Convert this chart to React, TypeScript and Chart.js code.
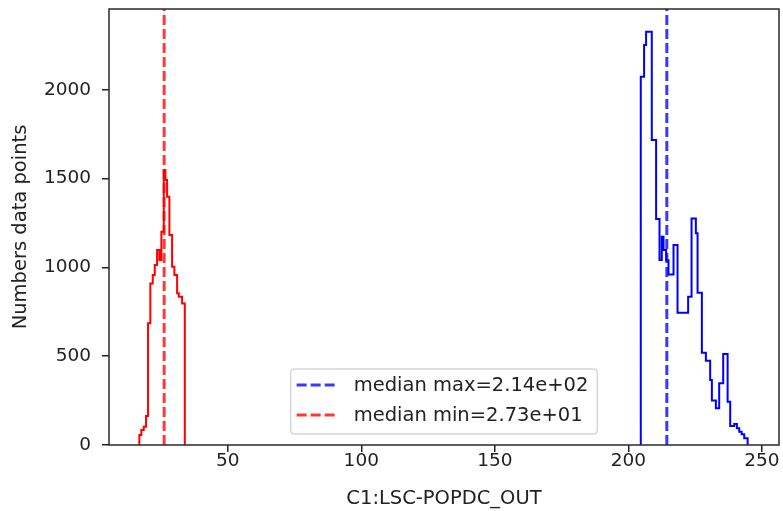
import React, { useEffect, useRef } from 'react';
import { Chart, registerables } from 'chart.js';

Chart.register(...registerables);

// ---- data ----
const xTicks = [50, 100, 150, 200, 250];
const yTicks = [0, 500, 1000, 1500, 2000];
const xRange = [5.55, 256.4];
const yRange = [0, 2455];

const redEdges = [16.91, 17.66, 18.56, 19.42, 20.17, 21.03, 21.93, 22.68, 23.55, 24.41, 25.16, 26.06, 26.66, 27.3, 28.16, 29.17, 30.03, 31.05, 31.68, 32.92, 33.93];
const redCounts = [56, 84, 103, 163, 685, 910, 957, 1013, 1098, 1042, 1201, 1548, 1492, 1398, 1182, 1004, 957, 855, 835, 797];

const blueEdges = [204.65, 205.89, 206.64, 208.77, 210.39, 211.66, 212.52, 213.16, 214.14, 215.03, 216.91, 218.41, 222.38, 223.66, 225.27, 225.91, 227.52, 229.02, 230.63, 231.27, 232.77, 234.01, 235.51, 237.16, 238.13, 239.63, 240.64, 241.51, 242.41, 243.38, 244.66];
const blueCounts = [2073, 2252, 2327, 1717, 1272, 1042, 1173, 1098, 1040, 960, 1126, 745, 835, 1276, 1192, 857, 520, 475, 366, 250, 207, 347, 512, 244, 107, 118, 94, 75, 60, 38];

const medianMax = 214.4;
const medianMin = 26.2;
const legendLabels = ['median max=2.14e+02', 'median min=2.73e+01'];
const xTitle = 'C1:LSC-POPDC_OUT';
const yTitle = 'Numbers data points';

const RED = '#ff0000';
const BLUE = '#0000ff';
const RED_DASH = 'rgba(255,0,0,0.78)';
const BLUE_DASH = 'rgba(0,0,255,0.78)';
const TEXT = '#222222';
const FONT = "'DejaVu Sans', sans-serif";

function stepPoints(edges: number[], counts: number[]) {
  const pts: { x: number; y: number }[] = [{ x: edges[0], y: 0 }];
  counts.forEach((c, i) => pts.push({ x: edges[i], y: c }));
  pts.push({ x: edges[edges.length - 1], y: 0 });
  return pts;
}

const framePlugin = {
  id: 'frame',
  afterDatasetsDraw(chart: any) {
    const { ctx, chartArea } = chart;
    ctx.save();
    ctx.strokeStyle = '#2a2a2a';
    ctx.lineWidth = 1.5;
    ctx.strokeRect(chartArea.left, chartArea.top, chartArea.right - chartArea.left, chartArea.bottom - chartArea.top);
    ctx.restore();
  },
};

const legendPlugin = {
  id: 'mplLegend',
  afterDraw(chart: any) {
    const { ctx, chartArea } = chart;
    const fs = 19.5;
    ctx.save();
    ctx.font = `${fs}px ${FONT}`;
    const textW = Math.max(...legendLabels.map((t) => ctx.measureText(t).width));
    const handleLen = 40;
    const padL = 6;
    const gap = 17;
    const padR = 9;
    const w = padL + handleLen + gap + textW + padR;
    const h = 65;
    const cx = (chartArea.left + chartArea.right) / 2;
    const left = cx - w / 2;
    const top = chartArea.bottom - 11 - h;
    const r = 4;
    ctx.beginPath();
    ctx.moveTo(left + r, top);
    ctx.lineTo(left + w - r, top);
    ctx.quadraticCurveTo(left + w, top, left + w, top + r);
    ctx.lineTo(left + w, top + h - r);
    ctx.quadraticCurveTo(left + w, top + h, left + w - r, top + h);
    ctx.lineTo(left + r, top + h);
    ctx.quadraticCurveTo(left, top + h, left, top + h - r);
    ctx.lineTo(left, top + r);
    ctx.quadraticCurveTo(left, top, left + r, top);
    ctx.closePath();
    ctx.fillStyle = 'rgba(255,255,255,0.8)';
    ctx.fill();
    ctx.strokeStyle = '#d6d6d6';
    ctx.lineWidth = 1.5;
    ctx.stroke();
    const colors = [BLUE_DASH, RED_DASH];
    legendLabels.forEach((label, i) => {
      const y = top + 16 + i * 30;
      ctx.beginPath();
      ctx.setLineDash([10, 4]);
      ctx.strokeStyle = colors[i];
      ctx.lineWidth = 3;
      ctx.moveTo(left + padL, y);
      ctx.lineTo(left + padL + handleLen, y);
      ctx.stroke();
      ctx.setLineDash([]);
      ctx.fillStyle = TEXT;
      ctx.textBaseline = 'middle';
      ctx.textAlign = 'left';
      ctx.fillText(label, left + padL + handleLen + gap, y + 1);
    });
    ctx.restore();
  },
};

const zeroPad = (scale: any) => {
  scale.paddingTop = 0;
  scale.paddingBottom = 0;
  scale.paddingLeft = 0;
  scale.paddingRight = 0;
};

export default function App() {
  const ref = useRef<HTMLCanvasElement | null>(null);
  useEffect(() => {
    document.body.style.margin = '0';
    const canvas = ref.current;
    if (!canvas) return;
    const chart = new Chart(canvas, {
      type: 'line',
      data: {
        datasets: [
          {
            label: legendLabels[1],
            data: [{ x: medianMin, y: yRange[0] }, { x: medianMin, y: yRange[1] }],
            borderColor: RED_DASH,
            borderWidth: 3,
            borderDash: [10, 4],
            pointRadius: 0,
            fill: false,
          },
          {
            label: legendLabels[0],
            data: [{ x: medianMax, y: yRange[0] }, { x: medianMax, y: yRange[1] }],
            borderColor: BLUE_DASH,
            borderWidth: 3,
            borderDash: [10, 4],
            pointRadius: 0,
            fill: false,
          },
          {
            label: 'min',
            data: stepPoints(redEdges, redCounts),
            borderColor: RED,
            borderWidth: 2,
            stepped: 'before',
            pointRadius: 0,
            fill: false,
          },
          {
            label: 'max',
            data: stepPoints(blueEdges, blueCounts),
            borderColor: BLUE,
            borderWidth: 2,
            stepped: 'before',
            pointRadius: 0,
            fill: false,
          },
        ],
      },
      options: {
        responsive: false,
        animation: false,
        events: [],
        layout: { padding: { left: 0, top: 9, right: 4, bottom: 0 } },
        plugins: { legend: { display: false }, tooltip: { enabled: false }, title: { display: false } },
        scales: {
          x: {
            type: 'linear',
            min: xRange[0],
            max: xRange[1],
            afterBuildTicks: (axis: any) => {
              axis.ticks = xTicks.map((v) => ({ value: v }));
            },
            afterFit: (scale: any) => {
              scale.height = 66;
              zeroPad(scale);
            },
            grid: { display: true, drawOnChartArea: false, drawTicks: true, tickLength: 7, color: '#222', lineWidth: 1.5 },
            border: { display: false },
            ticks: { color: TEXT, font: { family: FONT, size: 18.5 }, padding: -2, maxRotation: 0, autoSkip: false, callback: (v: any) => String(v) },
            title: { display: true, text: xTitle, color: TEXT, font: { family: FONT, size: 19.5 }, padding: { top: 0, bottom: 0 } },
          },
          y: {
            type: 'linear',
            min: yRange[0],
            max: yRange[1],
            afterBuildTicks: (axis: any) => {
              axis.ticks = yTicks.map((v) => ({ value: v }));
            },
            afterFit: (scale: any) => {
              scale.width = 109;
              zeroPad(scale);
            },
            grid: { display: true, drawOnChartArea: false, drawTicks: true, tickLength: 7, color: '#222', lineWidth: 1.5 },
            border: { display: false },
            ticks: { color: TEXT, font: { family: FONT, size: 18.5 }, padding: 11, autoSkip: false, callback: (v: any) => String(v) },
            title: { display: true, text: yTitle, color: TEXT, font: { family: FONT, size: 19.5 }, padding: { top: 9, bottom: 0 } },
          },
        },
      },
      plugins: [framePlugin, legendPlugin],
    } as any);
    return () => chart.destroy();
  }, []);
  return (
    <div style={{ width: 783, height: 511 }}>
      <canvas ref={ref} width={783} height={511} style={{ display: 'block' }} />
    </div>
  );
}
